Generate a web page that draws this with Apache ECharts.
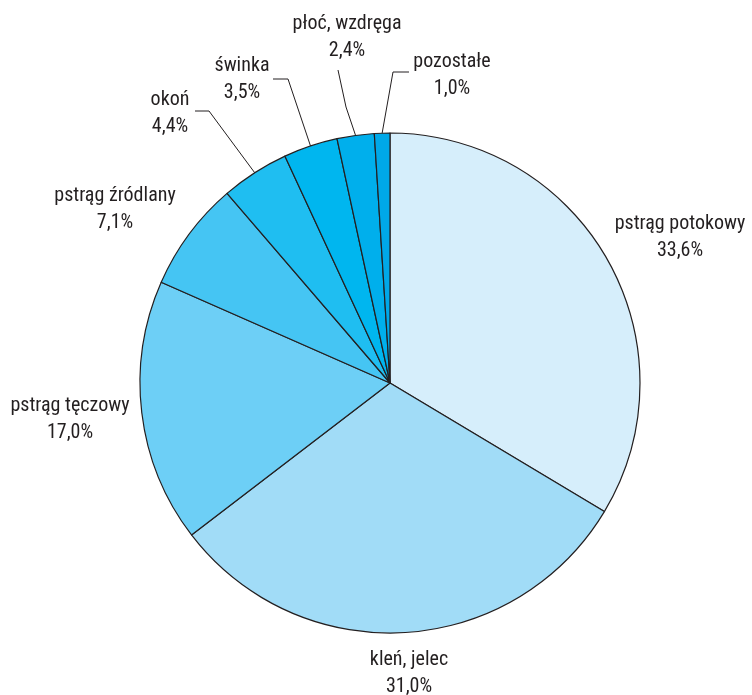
<!DOCTYPE html>
<html>
<head>
<meta charset="utf-8">
<script src="https://cdn.jsdelivr.net/npm/echarts@6/dist/echarts.min.js"></script>
<style>
html,body{margin:0;padding:0;background:#fff;}
#chart{width:752px;height:695px;}
</style>
</head>
<body>
<div id="chart"></div>
<script>
// Data
const categories = ['pstrąg potokowy', 'kleń, jelec', 'pstrąg tęczowy', 'pstrąg źródlany', 'okoń', 'świnka', 'płoć, wzdręga', 'pozostałe'];
const values = [33.6, 31.0, 17.0, 7.1, 4.4, 3.5, 2.4, 1.0];

// Styles / layout
const colors = ['#d6eefb', '#a1dcf7', '#6dcff6', '#45c5f3', '#1fbef1', '#00b6ef', '#00afec', '#00a8e8'];
const labelCenters = [[680, 237], [409, 673], [70, 419], [115, 209], [170, 113], [242, 79], [347, 37], [452, 75]];
const leaderPoints = [null, null, null, null, [[209, 111], [195, 111]], [[288, 79], [273, 79]], [[346, 107], [338, 70]], [[393, 72], [409, 72]]];

const chart = echarts.init(document.getElementById('chart'), null, {renderer: 'canvas'});

const data = categories.map((name, i) => ({
  name: name,
  value: values[i],
  itemStyle: {color: colors[i]},
  labelLine: {show: !!leaderPoints[i]}
}));

chart.setOption({
  animation: false,
  backgroundColor: '#ffffff',
  series: [{
    type: 'pie',
    center: [390, 383],
    radius: [0, 250],
    startAngle: 90,
    clockwise: true,
    avoidLabelOverlap: false,
    data: data,
    itemStyle: {borderColor: '#231f20', borderWidth: 1.2},
    emphasis: {disabled: true},
    label: {
      show: true,
      position: 'outside',
      fontFamily: '"Roboto Condensed", "Liberation Sans", sans-serif',
      fontSize: 20,
      lineHeight: 27,
      color: '#231f20',
      align: 'center',
      formatter: function (p) {
        return p.name + '\n' + p.value.toFixed(1).replace('.', ',') + '%';
      }
    },
    labelLine: {
      show: false,
      lineStyle: {color: '#231f20', width: 1}
    },
    labelLayout: function (params) {
      const i = params.dataIndex;
      const c = labelCenters[i];
      const res = {x: c[0], y: c[1], align: 'center', verticalAlign: 'middle'};
      if (leaderPoints[i] && params.labelLinePoints) {
        const start = params.labelLinePoints[0];
        res.labelLinePoints = [start, leaderPoints[i][0], leaderPoints[i][1]];
      }
      return res;
    }
  }]
});
</script>
</body>
</html>
